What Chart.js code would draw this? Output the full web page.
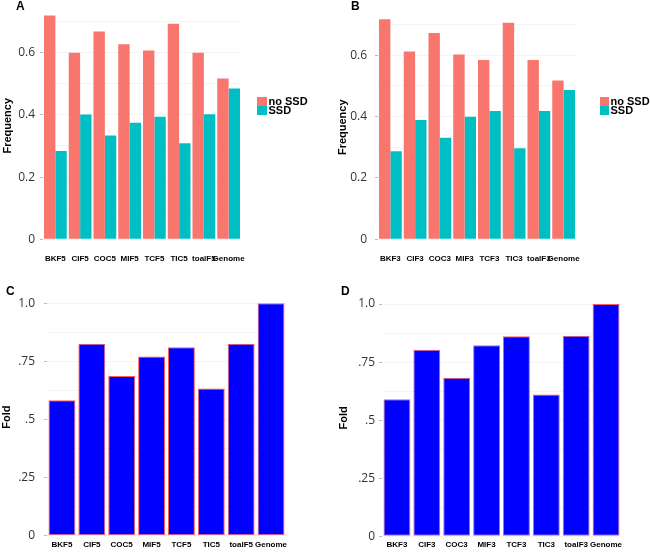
<!DOCTYPE html>
<html>
<head>
  <title>SSD Frequency and Fold</title>
  <script src="https://cdn.jsdelivr.net/npm/chart.js"></script>
  <style>
    body { margin: 0; background: #fff; }
    #wrap { position: relative; width: 650px; height: 552px; overflow: hidden; }
    .panel { position: absolute; width: 325px; height: 276px; }
    .tag { position: absolute; font: bold 12px "Liberation Sans", Arial, sans-serif; color: #000; }
  </style>
</head>
<body>
  <div id="wrap">
    <div class="panel" style="left:0;top:0"><canvas id="chartA"></canvas></div>
    <div class="panel" style="left:325px;top:0"><canvas id="chartB"></canvas></div>
    <div class="panel" style="left:0;top:276px"><canvas id="chartC"></canvas></div>
    <div class="panel" style="left:325px;top:276px"><canvas id="chartD"></canvas></div>
    <div class="tag" style="left:16px;top:-1px">A</div>
    <div class="tag" style="left:351px;top:-1px">B</div>
    <div class="tag" style="left:6px;top:284px">C</div>
    <div class="tag" style="left:341px;top:284px">D</div>
  </div>

  <script>
    // categories
    const catsF5 = ['BKF5', 'CIF5', 'COC5', 'MIF5', 'TCF5', 'TIC5', 'toalF5', 'Genome'];
    const catsF3 = ['BKF3', 'CIF3', 'COC3', 'MIF3', 'TCF3', 'TIC3', 'toalF3', 'Genome'];

    // panel A / B : frequency
    const noSsdF5 = [0.719, 0.600, 0.668, 0.627, 0.607, 0.693, 0.600, 0.517];
    const ssdF5   = [0.284, 0.401, 0.334, 0.375, 0.394, 0.309, 0.402, 0.485];
    const noSsdF3 = [0.717, 0.612, 0.672, 0.602, 0.584, 0.705, 0.584, 0.517];
    const ssdF3   = [0.287, 0.389, 0.331, 0.399, 0.418, 0.297, 0.418, 0.486];

    // panel C / D : fold
    const foldF5 = [0.583, 0.826, 0.687, 0.771, 0.811, 0.633, 0.826, 1.0];
    const foldF3 = [0.590, 0.803, 0.683, 0.823, 0.861, 0.611, 0.864, 1.0];

    // axis ticks
    const freqTicks = [0, 0.2, 0.4, 0.6];
    const freqTickLabels = ['0', '0.2', '0.4', '0.6'];
    const freqGrid = [0, 0.1, 0.2, 0.3, 0.4, 0.5, 0.6, 0.7];
    const foldTicks = [0, 0.25, 0.5, 0.75, 1.0];
    const foldTickLabels = ['0', '.25', '.5', '.75', '1.0'];
    const foldGrid = [0, 0.125, 0.25, 0.375, 0.5, 0.625, 0.75, 0.875, 1.0];

    const RED = '#F8766D';
    const TEAL = '#00BFC4';
    const SANS = '"Liberation Sans", Arial, sans-serif';

    // legend drawn beside the plot, at a fixed spot like the original figure
    const sideLegend = {
      id: 'sideLegend',
      afterDraw(chart, args, opts) {
        if (!opts.show) return;
        const ctx = chart.ctx;
        ctx.save();
        ctx.font = 'bold 11px ' + SANS;
        ctx.textBaseline = 'middle';
        chart.data.datasets.forEach((ds, i) => {
          const y = opts.y + i * opts.row;
          ctx.fillStyle = ds.backgroundColor;
          ctx.fillRect(opts.x, y, opts.box, opts.row);
          ctx.fillStyle = '#000';
          ctx.fillText(ds.label, opts.x + opts.box + 1.5, y + opts.row / 2 + 0.5);
        });
        ctx.restore();
      }
    };

    const majorIdx = (majors, v) => majors.findIndex(m => Math.abs(m - v) < 1e-6);

    function makeChart(id, cfg) {
      return new Chart(document.getElementById(id), {
        type: 'bar',
        data: { labels: cfg.labels, datasets: cfg.datasets },
        plugins: [sideLegend],
        options: {
          animation: false,
          responsive: true,
          maintainAspectRatio: false,
          layout: { padding: cfg.pad },
          plugins: {
            legend: { display: false },
            tooltip: { enabled: false },
            sideLegend: cfg.legend || { show: false }
          },
          datasets: { bar: { categoryPercentage: cfg.catPct, barPercentage: 1 } },
          scales: {
            x: {
              afterFit: s => { s.height = cfg.xH; },
              border: { display: false },
              grid: { display: false, drawTicks: false },
              ticks: {
                autoSkip: false, maxRotation: 0, padding: cfg.xPad,
                color: '#000', font: { family: SANS, size: 8, weight: 'bold' }
              }
            },
            y: {
              min: 0, max: cfg.max,
              afterFit: s => { s.width = cfg.yW; },
              afterBuildTicks: s => { s.ticks = cfg.grid.map(v => ({ value: v })); },
              border: { display: false },
              grid: {
                color: '#f4f4f4', lineWidth: 1, tickLength: 3,
                tickColor: c => majorIdx(cfg.majors, c.tick.value) >= 0 ? '#bbb' : 'transparent'
              },
              ticks: {
                padding: cfg.yPad, color: '#333',
                font: { family: '"Open Sans", sans-serif', size: 12 },
                callback: v => {
                  const k = majorIdx(cfg.majors, v);
                  return k >= 0 ? cfg.majorLabels[k] : '';
                }
              },
              title: {
                display: true, text: cfg.yTitle, color: '#000',
                font: { family: SANS, size: 11, weight: 'bold' },
                padding: { top: cfg.titleOff, bottom: 0 }
              }
            }
          }
        }
      });
    }

    const freqSets = (a, b) => [
      { label: 'no SSD', data: a, backgroundColor: RED, borderWidth: 0 },
      { label: 'SSD', data: b, backgroundColor: TEAL, borderWidth: 0 }
    ];
    const foldSet = d => [{
      label: 'Fold', data: d, backgroundColor: '#0000FF',
      borderColor: '#FF5A5A', borderWidth: 1, borderSkipped: false
    }];

    makeChart('chartA', {
      labels: catsF5, datasets: freqSets(noSsdF5, ssdF5),
      max: 0.73, grid: freqGrid, majors: freqTicks, majorLabels: freqTickLabels,
      yTitle: 'Frequency', titleOff: 1, yW: 43, yPad: 5, xH: 36.7, xPad: 15,
      pad: { top: 2.6, right: 84, bottom: 0, left: 0 }, catPct: 0.92,
      legend: { show: true, x: 257, y: 97, box: 10, row: 9 }
    });

    makeChart('chartB', {
      labels: catsF3, datasets: freqSets(noSsdF3, ssdF3),
      max: 0.73, grid: freqGrid, majors: freqTicks, majorLabels: freqTickLabels,
      yTitle: 'Frequency', titleOff: 11, yW: 53, yPad: 8, xH: 36.7, xPad: 15,
      pad: { top: 2, right: 74, bottom: 0, left: 0 }, catPct: 0.92,
      legend: { show: true, x: 275, y: 97, box: 9, row: 9 }
    });

    makeChart('chartC', {
      labels: catsF5, datasets: foldSet(foldF5),
      max: 1.02, grid: foldGrid, majors: foldTicks, majorLabels: foldTickLabels,
      yTitle: 'Fold', titleOff: 0, yW: 47, yPad: 9, xH: 15.7, xPad: 4,
      pad: { top: 22.6, right: 39, bottom: 0, left: 0 }, catPct: 0.9
    });

    makeChart('chartD', {
      labels: catsF3, datasets: foldSet(foldF3),
      max: 1.02, grid: foldGrid, majors: foldTicks, majorLabels: foldTickLabels,
      yTitle: 'Fold', titleOff: 12, yW: 57, yPad: 4, xH: 15.7, xPad: 4,
      pad: { top: 23.4, right: 29, bottom: 0, left: 0 }, catPct: 0.9
    });
  </script>
</body>
</html>
